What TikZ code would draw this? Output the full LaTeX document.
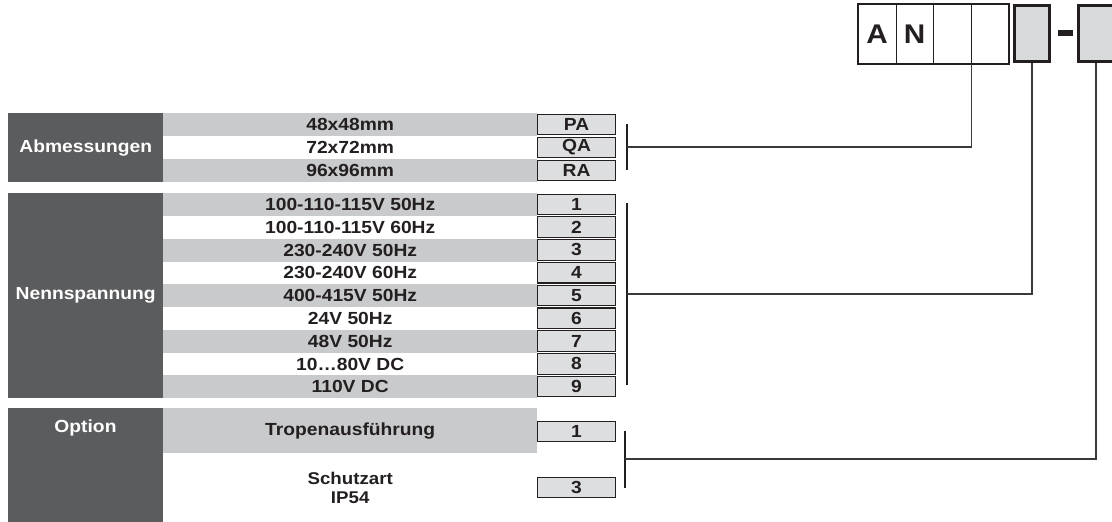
\documentclass[tikz,border=0pt]{standalone}
\usepackage{fontspec}
\setmainfont{Liberation Sans}[FakeStretch=1.1]
\definecolor{darkbox}{HTML}{5B5C5E}
\definecolor{rowgray}{HTML}{C9CACC}
\definecolor{codefill}{HTML}{DDDEE0}
\definecolor{topfill}{HTML}{D9DADC}
\definecolor{ink}{HTML}{231F20}
\definecolor{linec}{HTML}{3A3A3C}
\tikzset{
  lblbox/.style={fill=darkbox, anchor=north west, inner sep=0pt, minimum width=155pt},
  lbltext/.style={text=white, font=\fontsize{17.5}{20}\selectfont\bfseries, inner sep=0pt},
  band/.style={anchor=north west, inner sep=0pt, minimum width=374pt, text=ink,
    font=\fontsize{17.5}{20}\selectfont\bfseries},
  grayband/.style={band, fill=rowgray},
  codebox/.style={draw=ink, line width=1.1pt, fill=codefill, inner sep=0pt,
    minimum width=78pt, minimum height=20.5pt, text=ink,
    font=\fontsize{17.5}{20}\selectfont\bfseries},
  bracketline/.style={line width=2.8pt, draw=ink},
  conn/.style={line width=1.2pt, draw=linec},
  topcell/.style={draw=ink, line width=0.9pt, inner sep=0pt, minimum width=37.5pt,
    minimum height=59pt, anchor=north west, text=ink, font=\fontsize{27}{30}\selectfont\bfseries},
  topgray/.style={draw=ink, line width=2.8pt, fill=topfill, inner sep=0pt,
    minimum width=35pt, minimum height=56pt}
}
\begin{document}
\begin{tikzpicture}[x=1pt,y=-1pt]
\useasboundingbox (0,0) rectangle (1112,522);
% ---- top code ----
\node[topcell] (tA) at (858,4) {A};
\node[topcell] (tN) at (895.5,4) {N};
\node[topcell] (t3) at (933,4) {};
\node[topcell] (t4) at (970.5,4) {};
\draw[draw=ink, line width=2.8pt] (tA.north west) rectangle (t4.south east);
\node[topgray] (g1) at (1032,33.5) {};
\node[fill=ink, inner sep=0pt, minimum width=15pt, minimum height=6pt] (dash) at (1065.5,33) {};
\node[topgray] (g2) at (1096,33.5) {};
% ---- Abmessungen ----
\node[lblbox, minimum height=69pt] (abm) at (8,113) {};
\node[lbltext] at (abm.center) {Abmessungen};
\node[grayband, minimum height=23pt] (a1) at (163,113) {48x48mm};
\node[band, minimum height=23pt] (a2) at (163,136) {72x72mm};
\node[grayband, minimum height=23pt] (a3) at (163,159) {96x96mm};
\node[codebox] (ca1) at (576.5,124.5) {PA};
\node[codebox] (ca2) at (576.5,147.5) {QA};
\node[codebox] (ca3) at (576.5,170.5) {RA};
\coordinate (b1t) at (627,124);
\coordinate (b1b) at (627,170);
\coordinate (b1m) at (627,147);
\draw[bracketline] (b1t) -- (b1b);
\draw[conn] (b1m) -| (t3.south east);
% ---- Nennspannung ----
\node[lblbox, minimum height=205pt] (nenn) at (8,193) {};
\node[lbltext] at (nenn.center) {Nennspannung};
\foreach \i/\t/\g in {1/100-110-115V 50Hz/grayband, 2/100-110-115V 60Hz/band,
  3/230-240V 50Hz/grayband, 4/230-240V 60Hz/band, 5/400-415V 50Hz/grayband,
  6/24V 50Hz/band, 7/48V 50Hz/grayband, 8/10\dots80V DC/band, 9/110V DC/grayband}{
  \node[\g, minimum height=22.78pt] (n\i) at (163,{193+(\i-1)*22.78}) {\t};
  \node[codebox] (cn\i) at (576.5,{193+(\i-0.5)*22.78}) {\i};
}
\coordinate (b2t) at (627,203);
\coordinate (b2b) at (627,385);
\coordinate (b2m) at (627,294);
\draw[bracketline] (b2t) -- (b2b);
\draw[conn] (b2m) -| (g1.south);
% ---- Option ----
\node[lblbox, minimum height=116pt] (opt) at (8,408) {};
\node[lbltext] at (85.5,428) {Option};
\node[grayband, minimum height=45pt] (o1) at (163,408) {Tropenausführung};
\node[band, minimum height=69pt, align=center, font=\fontsize{17}{19}\selectfont\bfseries] (o2) at (163,453) {Schutzart\\IP54};
\node[codebox] (co1) at (576.5,431.5) {1};
\node[codebox] (co3) at (576.5,487.5) {3};
\coordinate (b3t) at (625,431);
\coordinate (b3b) at (625,488);
\coordinate (b3m) at (625,459);
\draw[bracketline] (b3t) -- (b3b);
\draw[conn] (b3m) -| (g2.south);
\end{tikzpicture}
\end{document}
